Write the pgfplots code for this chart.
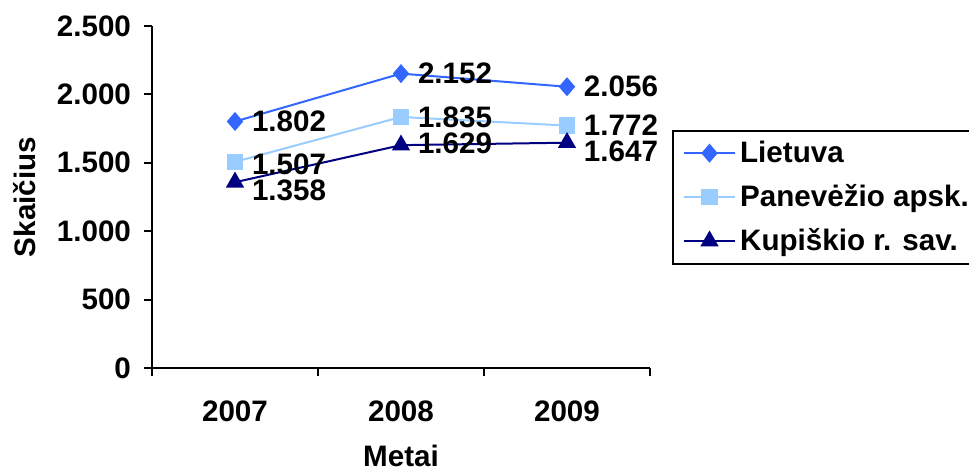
\documentclass[border=0pt]{standalone}
\usepackage{pgfplots}
\pgfplotsset{compat=1.18}
\usepackage{pgfplotstable}
\usepackage{fontspec}
\setmainfont{Liberation Sans}
\definecolor{cL}{HTML}{3366FF}
\definecolor{cP}{HTML}{99CCFF}
\definecolor{cK}{HTML}{000080}
\pgfplotstableread{
x y dy
0 1802 0
1 2152 0
2 2056 0
}\lie
\pgfplotstableread{
x y dy
0 1507 -1
1 1835 0
2 1772 0
}\pan
\pgfplotstableread{
x y dy
0 1358 -4
1 1629 1
2 1647 -4.5
}\kup
\begin{document}
\begin{tikzpicture}[font=\fontsize{14.8}{17.5}\selectfont\bfseries]
\useasboundingbox (0,0) rectangle (484.5pt,236pt);
\begin{axis}[
  at={(76pt,52pt)}, anchor=south west,
  scale only axis, width=249pt, height=171pt,
  xmin=-0.5, xmax=2.5, ymin=0, ymax=2500,
  clip=false,
  axis lines*=left,
  axis line style={line width=1pt},
  every tick/.style={line width=1pt, black},
  tick align=outside, major tick length=4pt,
  xtick={-0.5,0.5,1.5,2.5}, xticklabels={},
  extra x ticks={0,1,2}, extra x tick labels={2007,2008,2009},
  extra x tick style={tick style={draw=none}, tick label style={yshift=-9pt}},
  ytick={0,500,...,2500},
  scaled y ticks=false,
  yticklabel style={xshift=-3pt},
  /pgf/number format/.cd, 1000 sep={.}, assume math mode=true, /pgfplots/.cd,
  xlabel={Metai}, ylabel={Skaičius},
  every axis x label/.style={at={(axis description cs:0.5,-0.287)}, anchor=base},
  every axis y label/.style={at={(axis description cs:-0.255,0.5)}, rotate=90, anchor=center},
  nodes near coords,
  visualization depends on={\thisrow{dy} \as \dy},
  every node near coord/.append style={anchor=west, inner sep=0pt, xshift=8pt, yshift=\dy pt, black},
  legend cell align=left,
  legend style={at={(1.044,0.696)}, anchor=north west, draw=black, line width=1pt,
    row sep=5.5pt, inner xsep=5pt, inner ysep=3pt,
    /tikz/every even column/.append style={column sep=3pt}},
  legend image code/.code={\draw[mark repeat=2,mark phase=2] plot coordinates {(0cm,0cm) (0.45cm,0cm) (0.9cm,0cm)};},
]
\addplot[color=cL, line width=1pt, mark=diamond*, mark size=4pt, mark options={solid, fill=cL, xscale=1.15}] table[x=x,y=y]{\lie};
\addlegendentry{Lietuva}
\addplot[color=cP, line width=1pt, mark=square*, mark size=3.6pt, mark options={solid, fill=cP}] table[x=x,y=y]{\pan};
\addlegendentry{Panevėžio apsk.}
\addplot[color=cK, line width=1pt, mark=triangle*, mark size=4.3pt, mark options={solid, fill=cK}] table[x=x,y=y]{\kup};
\addlegendentry{Kupiškio r. sav.}
\end{axis}
\end{tikzpicture}
\end{document}
